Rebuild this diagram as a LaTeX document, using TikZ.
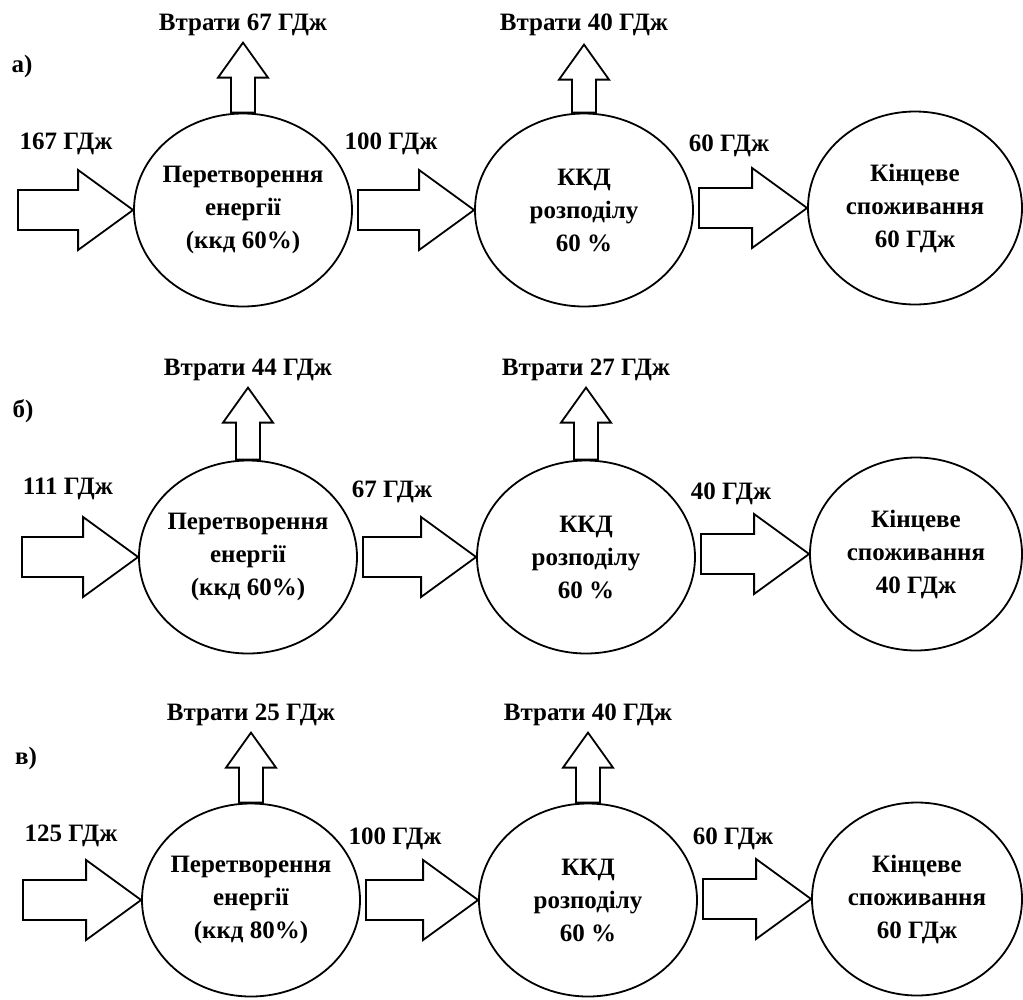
\documentclass[tikz,border=0pt]{standalone}
\usepackage{fontspec}
\setmainfont{Liberation Serif}
\usetikzlibrary{calc,shapes.geometric}
\newcommand\hblk[2]{\draw[blk] let \p1=(#1),\p2=(#2) in (\x1,\y2+20pt) -- (\x2-55pt,\y2+20pt) -- (\x2-55pt,\y2+40pt) -- (\x2,\y2) -- (\x2-55pt,\y2-40pt) -- (\x2-55pt,\y2-20pt) -- (\x1,\y2-20pt) -- cycle;}
\newcommand\vblk[2]{\draw[blk] let \p1=(#1),\p2=(#2) in (\x1-12pt,\y1) -- (\x1-12pt,\y2-35pt) -- (\x1-25pt,\y2-35pt) -- (\x1,\y2) -- (\x1+25pt,\y2-35pt) -- (\x1+12pt,\y2-35pt) -- (\x1+12pt,\y1) -- cycle;}
\begin{document}
\begin{tikzpicture}[x=1pt,y=-1pt,
  font=\bfseries\fontsize{25}{33}\selectfont,
  circ/.style={draw,line width=1.8pt,ellipse,minimum width=218pt,minimum height=193pt,inner sep=0pt},
  ctext/.style={align=center,inner sep=0pt},
  blk/.style={draw,line width=1.8pt,line join=miter,fill=white},
  lbl/.style={anchor=mid,inner sep=0pt}]
\fill[white] (0,0) rectangle (1023,999);
\useasboundingbox (0,0) rectangle (1023,999);

% ---------- row a ----------
\node[lbl] (ra) at (22,70) {а)};
\node[circ,label={[ctext]center:Перетворення\\енергії\\(ккд 60\%)}] (a1) at (243,210) {};
\node[circ,label={[ctext]center:ККД\\розподілу\\60 \%}] (a2) at (584,210) {};
\node[circ,minimum width=214pt,label={[ctext]center:Кінцеве\\споживання\\60 ГДж}] (a3) at (915,208) {};
\coordinate (a0) at (18,207);
\hblk{a0}{a1.west}
\hblk{[xshift=5pt]a1.east}{a2.west}
\hblk{[xshift=5pt]a2.east}{a3.west}
\coordinate (at1) at ([yshift=70pt]a1.north);
\coordinate (at2) at ([yshift=68pt]a2.north);
\vblk{a1.north}{at1}
\vblk{a2.north}{at2}
\node[lbl] (la1) at ([yshift=14pt]at1) {Втрати 67 ГДж};
\node[lbl] (la2) at ([yshift=16pt]at2) {Втрати 40 ГДж};
\node[lbl] (fa0) at (66,147) {167 ГДж};
\node[lbl] (fa1) at (391,147) {100 ГДж};
\node[lbl] (fa2) at (729,149) {60 ГДж};

% ---------- row b ----------
\node[lbl] (rb) at (23,415) {б)};
\node[circ,label={[ctext]center:Перетворення\\енергії\\(ккд 60\%)}] (b1) at (248,557) {};
\node[circ,label={[ctext]center:ККД\\розподілу\\60 \%}] (b2) at (586,557) {};
\node[circ,minimum width=212pt,label={[ctext]center:Кінцеве\\споживання\\40 ГДж}] (b3) at (916,554) {};
\coordinate (b0) at (22,554);
\hblk{b0}{b1.west}
\hblk{[xshift=5pt]b1.east}{b2.west}
\hblk{[xshift=5pt]b2.east}{b3.west}
\coordinate (bt1) at ([yshift=72pt]b1.north);
\coordinate (bt2) at ([yshift=72pt]b2.north);
\vblk{b1.north}{bt1}
\vblk{b2.north}{bt2}
\node[lbl] (lb1) at ([yshift=14pt]bt1) {Втрати 44 ГДж};
\node[lbl] (lb2) at ([yshift=14pt]bt2) {Втрати 27 ГДж};
\node[lbl] (fb0) at (68,492) {111 ГДж};
\node[lbl] (fb1) at (392,495) {67 ГДж};
\node[lbl] (fb2) at (731,497) {40 ГДж};

% ---------- row c ----------
\node[lbl] (rc) at (26,762) {в)};
\node[circ,label={[ctext]center:Перетворення\\енергії\\(ккд 80\%)}] (c1) at (251,900) {};
\node[circ,label={[ctext]center:ККД\\розподілу\\60 \%}] (c2) at (588,900) {};
\node[circ,minimum width=210pt,label={[ctext]center:Кінцеве\\споживання\\60 ГДж}] (c3) at (917,899) {};
\coordinate (c0) at (23,900);
\hblk{c0}{c1.west}
\hblk{[xshift=5pt]c1.east}{c2.west}
\hblk{[xshift=5pt]c2.east}{c3.west}
\coordinate (ct1) at ([yshift=70pt]c1.north);
\coordinate (ct2) at ([yshift=70pt]c2.north);
\vblk{c1.north}{ct1}
\vblk{c2.north}{ct2}
\node[lbl] (lc1) at ([yshift=14pt]ct1) {Втрати 25 ГДж};
\node[lbl] (lc2) at ([yshift=14pt]ct2) {Втрати 40 ГДж};
\node[lbl] (fc0) at (71,839) {125 ГДж};
\node[lbl] (fc1) at (395,842) {100 ГДж};
\node[lbl] (fc2) at (733,842) {60 ГДж};
\end{tikzpicture}
\end{document}
